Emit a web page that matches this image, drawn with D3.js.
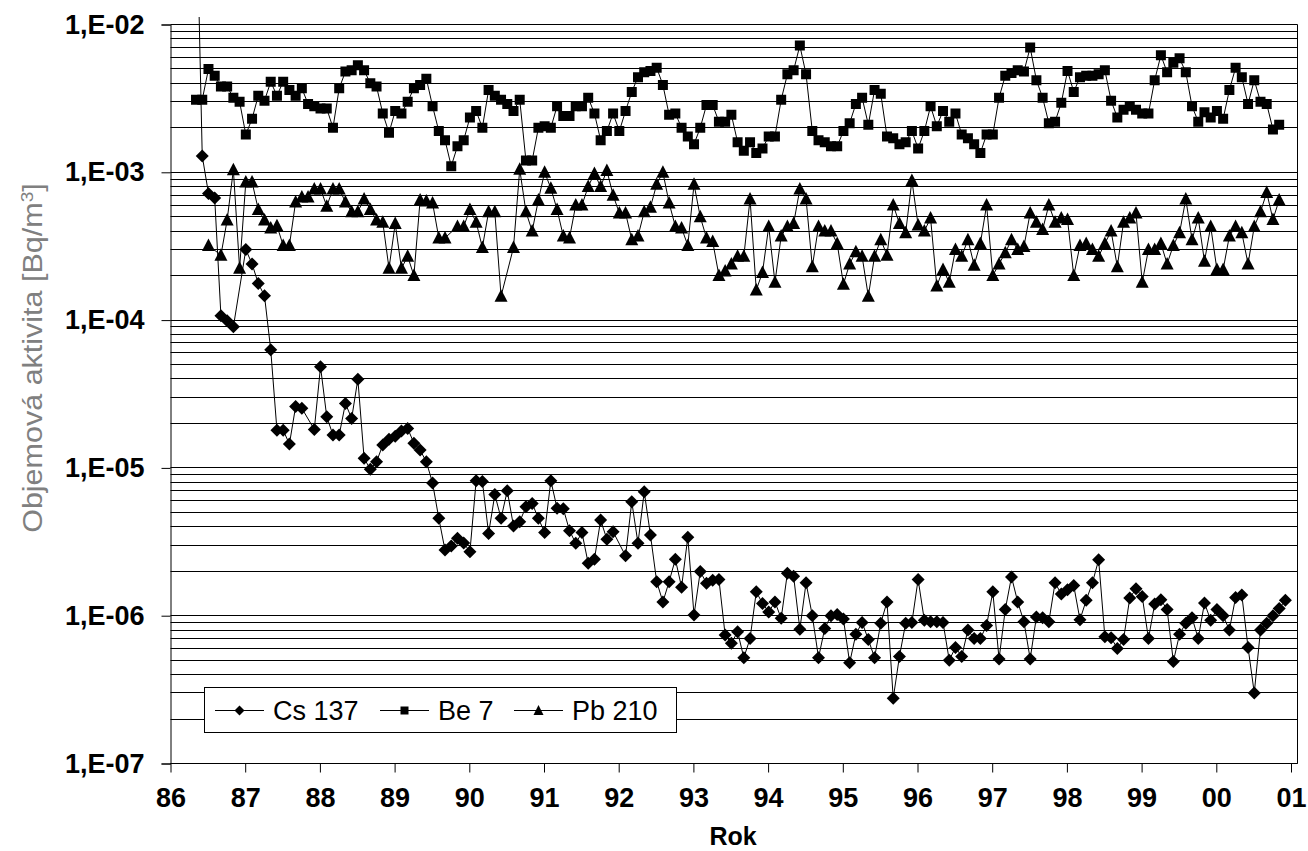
<!DOCTYPE html>
<html>
<head>
<meta charset="utf-8">
<script src="https://cdn.jsdelivr.net/npm/d3@7/dist/d3.min.js"></script>
<style>
  body { margin: 0; background: #fff; }
  text { font-family: "Liberation Sans", Arial, sans-serif; }
</style>
</head>
<body>
<svg id="chart" width="1308" height="851"></svg>
<script>
// monthly samples, first one at startYear (decimal year); null = no point
var startYear = 1986 + 4.1 / 12;

var csValues = [
  1e-1, 1.29e-3, 7.2e-4, 6.7e-4, 1.07e-4, 9.9e-5, 9.0e-5, null, 3.0e-4, 2.4e-4,
  1.77e-4, 1.46e-4, 6.3e-5, 1.8e-5, 1.8e-5, 1.45e-5, 2.6e-5, 2.53e-5, null, 1.82e-5,
  4.84e-5, 2.22e-5, 1.67e-5, 1.67e-5, 2.73e-5, 2.16e-5, 3.98e-5, 1.16e-5, 9.8e-6, 1.1e-5,
  1.43e-5, 1.56e-5, 1.64e-5, 1.78e-5, 1.85e-5, 1.47e-5, 1.32e-5, 1.1e-5, 7.9e-6, 4.56e-6,
  2.78e-6, 2.96e-6, 3.34e-6, 3.1e-6, 2.71e-6, 8.2e-6, 8.1e-6, 3.6e-6, 6.6e-6, 4.56e-6,
  7.0e-6, 4.04e-6, 4.32e-6, 5.46e-6, 5.75e-6, 4.56e-6, 3.65e-6, 8.2e-6, 5.33e-6, 5.3e-6,
  3.76e-6, 3.09e-6, 3.65e-6, 2.26e-6, 2.41e-6, 4.44e-6, 3.29e-6, 3.7e-6, null, 2.54e-6,
  5.9e-6, 3.09e-6, 6.9e-6, 3.52e-6, 1.7e-6, 1.24e-6, 1.7e-6, 2.41e-6, 1.56e-6, 3.4e-6,
  1.01e-6, 1.99e-6, 1.66e-6, 1.74e-6, 1.76e-6, 7.4e-7, 6.5e-7, 7.8e-7, 5.2e-7, 7.0e-7,
  1.45e-6, 1.21e-6, 1.06e-6, 1.24e-6, 9.6e-7, 1.94e-6, 1.85e-6, 8.1e-7, 1.67e-6, 1.0e-6,
  5.2e-7, 8.2e-7, 1.0e-6, 1.02e-6, 9.5e-7, 4.8e-7, 7.5e-7, 9.0e-7, 6.9e-7, 5.2e-7,
  8.9e-7, 1.24e-6, 2.76e-7, 5.3e-7, 8.9e-7, 9.0e-7, 1.76e-6, 9.3e-7, 9.1e-7, 9.1e-7,
  9.0e-7, 5.0e-7, 6.1e-7, 5.3e-7, 8.0e-7, 7.0e-7, 7.0e-7, 8.6e-7, 1.45e-6, 5.1e-7,
  1.1e-6, 1.83e-6, 1.24e-6, 9.1e-7, 5.1e-7, 9.8e-7, 9.7e-7, 9.1e-7, 1.67e-6, 1.4e-6,
  1.5e-6, 1.6e-6, 9.4e-7, 1.27e-6, 1.67e-6, 2.39e-6, 7.2e-7, 7.1e-7, 6.0e-7, 6.9e-7,
  1.32e-6, 1.52e-6, 1.35e-6, 7.0e-7, 1.2e-6, 1.28e-6, 1.1e-6, 4.9e-7, 7.5e-7, 8.9e-7,
  9.7e-7, 7.0e-7, 1.22e-6, 9.3e-7, 1.1e-6, 1.0e-6, 8.0e-7, 1.33e-6, 1.38e-6, 6.1e-7,
  3.0e-7, 8.0e-7, 8.9e-7, 1.0e-6, 1.12e-6, 1.27e-6
];

var beValues = [
  3.1e-3, 3.1e-3, 5.0e-3, 4.5e-3, 3.8e-3, 3.8e-3, 3.2e-3, 3.0e-3, 1.8e-3, 2.3e-3,
  3.3e-3, 3.05e-3, 4.1e-3, 3.3e-3, 4.1e-3, 3.6e-3, 3.3e-3, 3.7e-3, 2.9e-3, 2.8e-3,
  2.7e-3, 2.7e-3, 2.0e-3, 3.7e-3, 4.8e-3, 4.9e-3, 5.3e-3, 4.9e-3, 4.0e-3, 3.8e-3,
  2.5e-3, 1.85e-3, 2.6e-3, 2.5e-3, 3.0e-3, 3.7e-3, 3.9e-3, 4.3e-3, 2.8e-3, 1.9e-3,
  1.65e-3, 1.1e-3, 1.5e-3, 1.65e-3, 2.35e-3, 2.6e-3, 2.0e-3, 3.6e-3, 3.3e-3, 3.1e-3,
  2.9e-3, 2.6e-3, 3.1e-3, 1.2e-3, 1.2e-3, 2.0e-3, 2.05e-3, 2.0e-3, 2.8e-3, 2.4e-3,
  2.4e-3, 2.8e-3, 2.8e-3, 3.2e-3, 2.5e-3, 1.65e-3, 1.9e-3, 2.5e-3, 1.9e-3, 2.6e-3,
  3.5e-3, 4.4e-3, 4.75e-3, 4.85e-3, 5.1e-3, 3.9e-3, 2.45e-3, 2.5e-3, 2.0e-3, 1.75e-3,
  1.55e-3, 2.0e-3, 2.85e-3, 2.85e-3, 2.2e-3, 2.2e-3, 2.45e-3, 1.6e-3, 1.4e-3, 1.6e-3,
  1.35e-3, 1.45e-3, 1.75e-3, 1.75e-3, 3.1e-3, 4.6e-3, 4.9e-3, 7.2e-3, 4.6e-3, 1.9e-3,
  1.65e-3, 1.6e-3, 1.5e-3, 1.5e-3, 1.9e-3, 2.15e-3, 2.9e-3, 3.2e-3, 2.1e-3, 3.6e-3,
  3.4e-3, 1.75e-3, 1.7e-3, 1.55e-3, 1.6e-3, 1.9e-3, 1.45e-3, 1.9e-3, 2.8e-3, 2.05e-3,
  2.6e-3, 2.2e-3, 2.5e-3, 1.8e-3, 1.7e-3, 1.55e-3, 1.35e-3, 1.8e-3, 1.8e-3, 3.2e-3,
  4.5e-3, 4.7e-3, 4.9e-3, 4.8e-3, 7.0e-3, 4.2e-3, 3.2e-3, 2.15e-3, 2.2e-3, 2.95e-3,
  4.85e-3, 3.5e-3, 4.4e-3, 4.5e-3, 4.5e-3, 4.6e-3, 4.9e-3, 3.05e-3, 2.35e-3, 2.65e-3,
  2.8e-3, 2.65e-3, 2.5e-3, 2.5e-3, 4.2e-3, 6.2e-3, 4.75e-3, 5.5e-3, 5.9e-3, 4.75e-3,
  2.8e-3, 2.2e-3, 2.55e-3, 2.35e-3, 2.6e-3, 2.3e-3, 3.6e-3, 5.1e-3, 4.4e-3, 2.9e-3,
  4.2e-3, 3.0e-3, 2.9e-3, 1.95e-3, 2.1e-3
];

var pbValues = [
  null, null, 3.2e-4, null, 2.75e-4, 4.75e-4, 1.04e-3, 2.24e-4, 8.6e-4, 8.6e-4,
  5.6e-4, 4.75e-4, 4.2e-4, 4.35e-4, 3.2e-4, 3.2e-4, 6.3e-4, 6.8e-4, 6.8e-4, 7.7e-4,
  7.7e-4, 5.9e-4, 7.7e-4, 7.7e-4, 6.3e-4, 5.4e-4, 5.4e-4, 6.6e-4, 5.6e-4, 4.75e-4,
  4.6e-4, 2.24e-4, 4.5e-4, 2.24e-4, 2.7e-4, 2.0e-4, 6.5e-4, 6.4e-4, 6.2e-4, 3.6e-4,
  3.6e-4, null, 4.3e-4, 4.3e-4, 5.6e-4, 4.6e-4, 3.1e-4, 5.4e-4, 5.4e-4, 1.45e-4,
  null, 3.1e-4, 1.05e-3, 5.4e-4, 4.0e-4, 6.5e-4, 1.0e-3, 7.8e-4, 5.6e-4, 3.7e-4,
  3.6e-4, 6.0e-4, 6.0e-4, 8.0e-4, 9.8e-4, 8.0e-4, 1.03e-3, 7.0e-4, 5.3e-4, 5.3e-4,
  3.5e-4, 3.7e-4, 5.4e-4, 5.8e-4, 8.3e-4, 1.0e-3, 6.2e-4, 4.3e-4, 4.2e-4, 3.2e-4,
  8.3e-4, 5.0e-4, 3.6e-4, 3.4e-4, 2.0e-4, 2.15e-4, 2.4e-4, 2.7e-4, 2.7e-4, 6.6e-4,
  1.6e-4, 2.1e-4, 4.3e-4, 1.8e-4, 3.7e-4, 4.3e-4, 4.5e-4, 7.7e-4, 6.6e-4, 2.3e-4,
  4.3e-4, 4.0e-4, 4.0e-4, 3.3e-4, 1.75e-4, 2.4e-4, 2.9e-4, 2.7e-4, 1.45e-4, 2.7e-4,
  3.5e-4, 2.75e-4, 6.0e-4, 4.5e-4, 3.9e-4, 8.8e-4, 4.4e-4, 4.0e-4, 4.9e-4, 1.7e-4,
  2.2e-4, 1.8e-4, 3.0e-4, 2.7e-4, 3.5e-4, 2.35e-4, 3.3e-4, 6.0e-4, 2.0e-4, 2.4e-4,
  2.85e-4, 3.5e-4, 3.0e-4, 3.15e-4, 5.3e-4, 4.6e-4, 4.1e-4, 6.0e-4, 4.6e-4, 4.9e-4,
  4.8e-4, 2.0e-4, 3.2e-4, 3.3e-4, 3.0e-4, 2.7e-4, 3.3e-4, 4.0e-4, 2.3e-4, 4.6e-4,
  4.9e-4, 5.3e-4, 1.8e-4, 3.0e-4, 3.0e-4, 3.3e-4, 2.4e-4, 3.2e-4, 3.9e-4, 6.6e-4,
  3.5e-4, 4.9e-4, 2.5e-4, 4.3e-4, 2.2e-4, 2.2e-4, 3.7e-4, 4.3e-4, 3.9e-4, 2.4e-4,
  4.3e-4, 5.4e-4, 7.3e-4, 4.8e-4, 6.5e-4
];

var seriesNames = ['Cs 137', 'Be 7', 'Pb 210'];
var yTickValues = [1e-2, 1e-3, 1e-4, 1e-5, 1e-6, 1e-7];
var yTickLabels = ['1,E-02', '1,E-03', '1,E-04', '1,E-05', '1,E-06', '1,E-07'];
var xTickYears = d3.range(1986, 2002);
var xTickLabels = ['86', '87', '88', '89', '90', '91', '92', '93', '94', '95', '96', '97', '98', '99', '00', '01'];

var svg = d3.select('#chart');
var plotLeft = 170.5, plotRight = 1297.5, plotTop = 24.5, plotBottom = 763.5;
var lastTickX = 1291;

var x = d3.scaleLinear().domain([1986, 2001]).range([plotLeft, lastTickX]);
var y = d3.scaleLog().domain([1e-7, 1e-2]).range([plotBottom, plotTop]);

function crisp(v) { return Math.round(v - 0.5) + 0.5; }

//gridlines at every 1..9 step of each decade
var gridValues = [];
for (var e = -7; e < -2; e++) {
  for (var k = 1; k < 10; k++) gridValues.push(k * Math.pow(10, e));
}
gridValues.push(1e-2);

svg.append('g')
  .selectAll('line')
  .data(gridValues)
  .enter()
  .append('line')
  .attr('x1', plotLeft)
  .attr('x2', plotRight)
  .attr('y1', function(d) { return crisp(y(d)); })
  .attr('y2', function(d) { return crisp(y(d)); })
  .attr('stroke', '#000')
  .attr('stroke-width', 1);

//right border of the plot area
svg.append('line')
  .attr('x1', plotRight).attr('x2', plotRight)
  .attr('y1', plotTop).attr('y2', plotBottom)
  .attr('stroke', '#000');

//y axis with major ticks
var yAxis = d3.axisLeft(y)
  .tickValues(yTickValues)
  .tickSize(9)
  .tickPadding(17)
  .tickFormat(function(d, i) { return yTickLabels[i]; });

var gy = svg.append('g')
  .attr('transform', 'translate(' + plotLeft + ',0)')
  .call(yAxis);
gy.select('.domain').attr('stroke', '#000');
gy.selectAll('.tick line').attr('stroke', '#000');
gy.selectAll('.tick text')
  .attr('fill', '#000')
  .attr('font-size', 27)
  .attr('font-weight', 'bold')
  .attr('font-family', '"Liberation Sans", Arial, sans-serif');

//x axis
var xAxis = d3.axisBottom(x)
  .tickValues(xTickYears)
  .tickSize(9)
  .tickPadding(15)
  .tickFormat(function(d, i) { return xTickLabels[i]; });

var gx = svg.append('g')
  .attr('transform', 'translate(0,' + plotBottom + ')')
  .call(xAxis);
gx.select('.domain').attr('d', 'M' + plotLeft + ',0H' + plotRight).attr('stroke', '#000');
gx.selectAll('.tick line').attr('stroke', '#000');
gx.selectAll('.tick text')
  .attr('fill', '#000')
  .attr('font-size', 27)
  .attr('font-weight', 'bold')
  .attr('font-family', '"Liberation Sans", Arial, sans-serif');

//axis titles
svg.append('text')
  .attr('x', 733)
  .attr('y', 845)
  .attr('text-anchor', 'middle')
  .attr('font-size', 25)
  .attr('font-weight', 'bold')
  .text('Rok');

var yTitle = svg.append('text')
  .attr('transform', 'translate(42,358) rotate(-90) scale(1.13,1)')
  .attr('text-anchor', 'middle')
  .attr('font-size', 27)
  .attr('fill', '#808080');
yTitle.append('tspan').text('Objemová aktivita [Bq/m');
yTitle.append('tspan').attr('dy', -9).attr('font-size', 17).text('3');
yTitle.append('tspan').attr('dy', 9).text(']');

//marker shapes
var markers = {
  diamond: 'M0,-6.5L6.5,0L0,6.5L-6.5,0Z',
  square: 'M-5,-5H5V5H-5Z',
  triangle: 'M0,-7L6.5,5.5H-6.5Z'
};
var legendMarkers = {
  diamond: 'M0,-5L5,0L0,5L-5,0Z',
  square: 'M-4,-4H4V4H-4Z',
  triangle: 'M0,-5.5L5,4.5H-5Z'
};

function toPoints(values) {
  return values
    .map(function(v, i) { return { t: startYear + i / 12, v: v }; })
    .filter(function(d) { return d.v !== null; });
}

var series = [
  { name: seriesNames[0], values: csValues, marker: 'diamond' },
  { name: seriesNames[1], values: beValues, marker: 'square' },
  { name: seriesNames[2], values: pbValues, marker: 'triangle' }
];

svg.append('defs').append('clipPath')
  .attr('id', 'plotClip')
  .append('rect')
  .attr('x', plotLeft).attr('y', 17)
  .attr('width', plotRight - plotLeft).attr('height', plotBottom - 17);

var line = d3.line()
  .x(function(d) { return x(d.t); })
  .y(function(d) { return y(d.v); });

var plot = svg.append('g').attr('clip-path', 'url(#plotClip)');

series.forEach(function(s) {
  var pts = toPoints(s.values);
  plot.append('path')
    .datum(pts)
    .attr('d', line)
    .attr('fill', 'none')
    .attr('stroke', '#000')
    .attr('stroke-width', 1);
  plot.selectAll('path.m-' + s.marker)
    .data(pts)
    .enter()
    .append('path')
    .attr('class', 'm-' + s.marker)
    .attr('d', markers[s.marker])
    .attr('transform', function(d) { return 'translate(' + x(d.t) + ',' + y(d.v) + ')'; })
    .attr('fill', '#000');
});

//legend
var legend = svg.append('g');
legend.append('rect')
  .attr('x', 204.5).attr('y', 687.5)
  .attr('width', 472).attr('height', 45)
  .attr('fill', '#fff')
  .attr('stroke', '#000');

var legendX = [215, 380, 514];
series.forEach(function(s, i) {
  var g = legend.append('g').attr('transform', 'translate(' + legendX[i] + ',710)');
  g.append('line')
    .attr('x1', 0).attr('x2', 49)
    .attr('y1', 0.5).attr('y2', 0.5)
    .attr('stroke', '#000');
  g.append('path')
    .attr('d', legendMarkers[s.marker])
    .attr('transform', 'translate(24.5,0.5)')
    .attr('fill', '#000');
  g.append('text')
    .attr('x', 58)
    .attr('y', 10)
    .attr('font-size', 27)
    .attr('fill', '#000')
    .text(s.name);
});
</script>
</body>
</html>
